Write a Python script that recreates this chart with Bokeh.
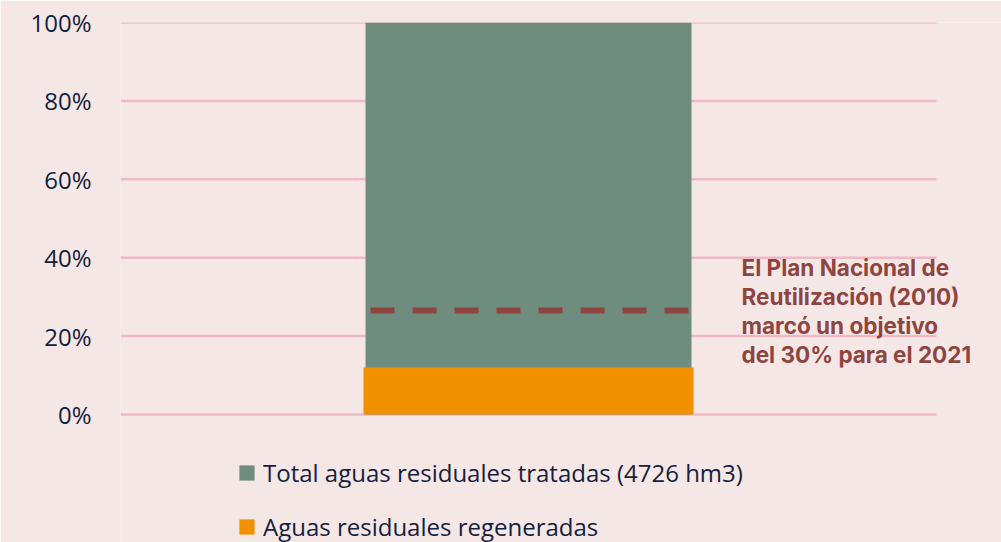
from bokeh.plotting import figure
from bokeh.models import Range1d, FixedTicker
from bokeh.core.properties import value
from bokeh.embed import file_html
from bokeh.resources import INLINE

# ---- data ----
categories = ["Total aguas residuales tratadas (4726 hm3)", "Aguas residuales regeneradas"]
shares = [100, 12]          # % of treated wastewater
target = 26.5               # dashed reference line as drawn
ticks = [0, 20, 40, 60, 80, 100]
tick_labels = ["0%", "20%", "40%", "60%", "80%", "100%"]
note_lines = ["El Plan Nacional de", "Reutilización (2010)", "marcó un objetivo", "del 30%  para el 2021"]

# ---- style ----
BG = "#f6e7e7"
GRID = "#f0b9c6"
GREEN = "#6f8d7e"
ORANGE = "#f29100"
RED = "#8e4540"
INK = "#14213d"

W, H = 1001, 542
TOP, LEFT = 22, 120
PX = 3.92  # px per percentage unit

p = figure(width=W, height=H, output_backend="svg", toolbar_location=None,
           x_range=Range1d(0, W - LEFT), y_range=Range1d(-(H - TOP - 392) / PX, 100),
           x_axis_location=None,
           min_border_left=LEFT, min_border_right=0, min_border_top=TOP, min_border_bottom=0,
           background_fill_color=BG, border_fill_color=BG, outline_line_color=None)
p.xgrid.visible = False
p.ygrid.visible = False

ax = p.yaxis[0]
ax.ticker = FixedTicker(ticks=ticks)
ax.major_label_overrides = {t: l for t, l in zip(ticks, tick_labels)}
ax.axis_line_color = None
ax.major_tick_line_color = None
ax.minor_tick_line_color = None
ax.major_tick_out = 0
ax.major_tick_in = 0
ax.major_label_standoff = 29
ax.major_label_text_font = "Open Sans"
ax.major_label_text_font_size = "24px"
ax.major_label_text_color = INK

# gridlines limited in extent
p.segment(x0=0, x1=816, y0=ticks, y1=ticks, line_color=GRID, line_width=2.5)

# bars
p.vbar(x=408, width=326, bottom=0, top=shares[0], fill_color=GREEN, line_color=None,
       legend_label=categories[0])
p.vbar(x=408, width=330, bottom=0, top=shares[1], fill_color=ORANGE, line_color=None,
       legend_label=categories[1])

# target dashed line
p.line(x=[250, 568], y=[target, target], line_color=RED, line_width=6, line_dash="24 18")

# annotation
first_center = (414 - 267) / PX
step = 29 / PX
p.text(x=621, y=[first_center - i * step for i in range(len(note_lines))], text=note_lines,
       text_font=value("Inter"), text_font_style="bold", text_font_size="22.5px",
       text_color=RED, text_baseline="middle", text_align="left")

lg = p.legend[0]
lg.location = (117, -1)
lg.orientation = "vertical"
lg.background_fill_alpha = 0
lg.border_line_color = None
lg.padding = 0
lg.margin = 0
lg.glyph_width = 19
lg.glyph_height = 19
lg.label_standoff = 7
lg.spacing = 21
lg.label_text_font = "Open Sans"
lg.label_text_font_size = "24px"
lg.label_text_color = INK

open("out.html", "w").write(file_html(p, INLINE))
